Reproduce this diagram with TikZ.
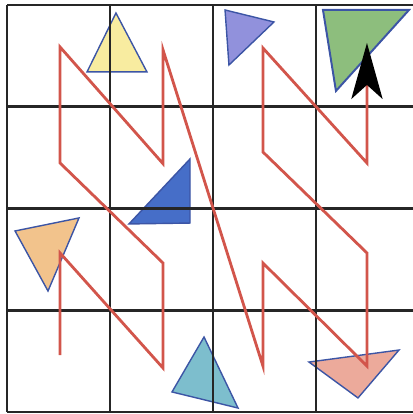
\documentclass[tikz,border=0pt]{standalone}
\usepackage{tikz}
\usepackage{xcolor}
\usetikzlibrary{arrows.meta}
\definecolor{zred}{HTML}{D2554B}
\definecolor{zedge}{HTML}{3C55A5}
\definecolor{zyellow}{HTML}{F8ECA0}
\definecolor{zpurple}{HTML}{9191DC}
\definecolor{zgreen}{HTML}{8DBE7D}
\definecolor{zblue}{HTML}{466EC8}
\definecolor{zorange}{HTML}{F2C38C}
\definecolor{zteal}{HTML}{7DBECD}
\definecolor{zpink}{HTML}{ECAA9B}
\tikzset{
  gridLine/.style={draw=black!85, line width=2pt},
  triShape/.style={draw=zedge, line width=1pt, line join=miter},
  zPath/.style={draw=zred, line width=2pt, line join=miter},
  zTip/.style={-{Stealth[length=1.4cm, width=0.78cm, inset=0.35cm, color=black]}}
}

\begin{document}
\begin{tikzpicture}[x=2.575cm,y=2.544cm]
  \useasboundingbox (-0.068,-0.0197) rectangle (3.942,4.049);
  \clip (-0.068,-0.0197) rectangle (3.942,4.049);
  % triangles
  \filldraw[triShape, fill=zyellow] (1.058,3.921) -- (0.777,3.342) -- (1.359,3.342) -- cycle;
  \filldraw[triShape, fill=zpurple] (2.117,3.951) -- (2.592,3.833) -- (2.155,3.410) -- cycle;
  \filldraw[triShape, fill=zgreen, line width=1.4pt] (3.068,3.951) -- (3.903,3.951) -- (3.194,3.155) -- cycle;
  \filldraw[triShape, fill=zblue] (1.777,2.487) -- (1.184,1.848) -- (1.777,1.857) -- cycle;
  \filldraw[triShape, fill=zorange] (0.078,1.779) -- (0.699,1.907) -- (0.398,1.189) -- cycle;
  \filldraw[triShape, fill=zteal] (1.913,0.737) -- (1.602,0.197) -- (2.243,0.039) -- cycle;
  \filldraw[triShape, fill=zpink] (2.932,0.491) -- (3.806,0.609) -- (3.408,0.138) -- cycle;
  % grid
  \draw[gridLine, step=1] (0,0) grid (3.942,4);
  % path points
  \coordinate (z1) at (0.515,0.560);
  \coordinate (z2) at (0.515,1.563);
  \coordinate (z3) at (1.515,0.432);
  \coordinate (z4) at (1.515,1.464);
  \coordinate (z5) at (0.515,2.447);
  \coordinate (z6) at (0.515,3.587);
  \coordinate (z7) at (1.515,2.440);
  \coordinate (z8) at (1.515,3.558);
  \coordinate (z9) at (2.485,0.452);
  \coordinate (z10) at (2.485,1.464);
  \coordinate (z11) at (3.495,0.452);
  \coordinate (z12) at (3.495,1.563);
  \coordinate (z13) at (2.485,2.555);
  \coordinate (z14) at (2.485,3.577);
  \coordinate (z15) at (3.495,2.447);
  \coordinate (z16) at (3.495,3.627);
  \draw[zPath, zTip] (z1) -- (z2) -- (z3) -- (z4) -- (z5) -- (z6) -- (z7) -- (z8)
    -- (z9) -- (z10) -- (z11) -- (z12) -- (z13) -- (z14) -- (z15) -- (z16);
\end{tikzpicture}
\end{document}
